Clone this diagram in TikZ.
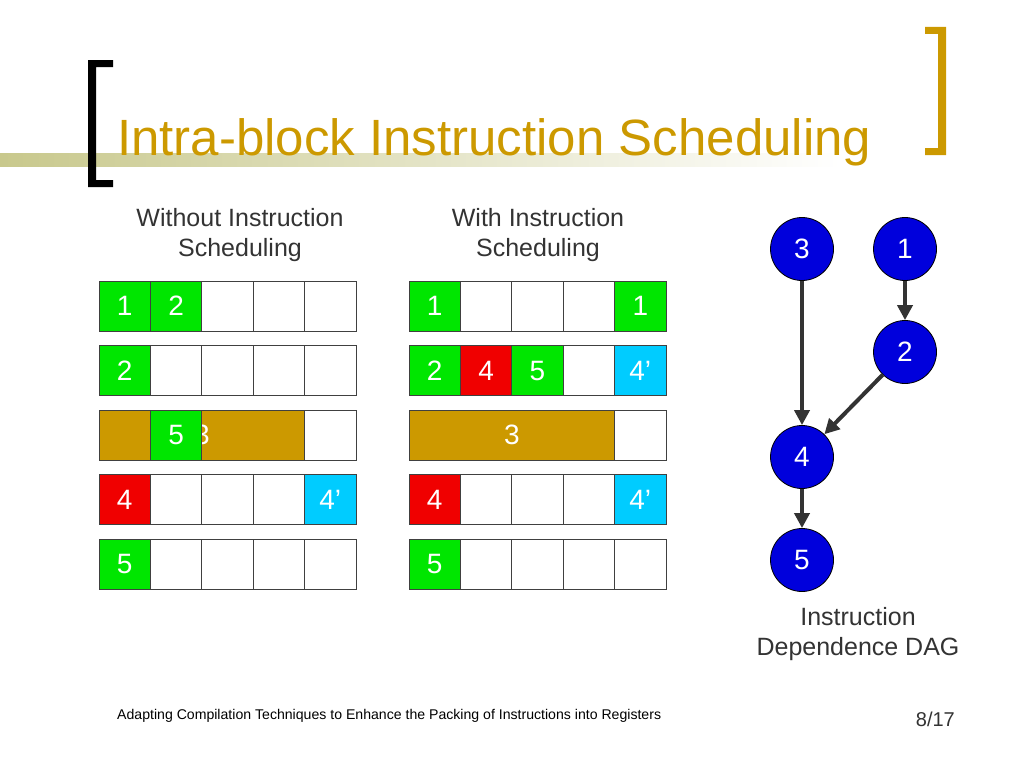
\documentclass[tikz,border=0pt]{standalone}
\usepackage{fontspec}
\setmainfont{Liberation Sans}
\usetikzlibrary{arrows.meta}
\definecolor{gold}{RGB}{204,153,0}
\definecolor{grn}{RGB}{0,230,0}
\definecolor{rd}{RGB}{240,0,0}
\definecolor{cy}{RGB}{0,204,255}
\definecolor{khaki}{RGB}{200,200,140}
\definecolor{dblue}{RGB}{0,0,220}
\definecolor{txt}{RGB}{51,51,51}
\tikzset{
  cell/.style={draw=black!75, line width=0.9pt, fill=white, minimum width=51.4pt, minimum height=50pt, inner sep=0pt, text=white, font=\fontsize{28}{30}\selectfont},
  dagnode/.style={circle, draw=black, line width=0.8pt, fill=dblue, minimum size=63pt, inner sep=0pt, text=white, font=\fontsize{28}{30}\selectfont},
  arr/.style={draw=txt, line width=4pt, -{Triangle[length=15pt,width=15pt]}},
  sub/.style={text=txt, font=\fontsize{25}{30}\selectfont, align=center},
}
\begin{document}
\begin{tikzpicture}[x=1pt,y=-1pt]
\useasboundingbox (0,0) rectangle (1024,768);
% title decoration
\shade[left color=khaki, right color=white, draw=none] (0,153) rectangle (840,166);
\fill[black] (88,60) -- (113,60) -- (113,67) -- (96,67) -- (96,180) -- (113,180) -- (113,187) -- (88,187) -- cycle;
\fill[gold] (946,27) -- (946,155) -- (925,155) -- (925,148) -- (938,148) -- (938,34) -- (925,34) -- (925,27) -- cycle;
\node[anchor=base west, inner sep=0pt, text=gold, font=\fontsize{51}{56}\selectfont] (title) at (117,155) {Intra-block Instruction Scheduling};
% subtitles
\node[sub] (subL) at (240,235) {Without Instruction\\Scheduling};
\node[sub] (subR) at (538,235) {With Instruction\\Scheduling};
% base grids
\foreach \g/\x in {L/99,R/409}
  \foreach \r in {1,...,5}
    \foreach \c in {1,...,5}
      \node[cell] (\g\r\c) at ({\x+(\c-0.5)*51.4},{306+(\r-1)*64.5}) {};
% left grid contents
\node[cell,fill=grn] (L11f) at (L11) {1};
\node[cell,fill=grn] (L12f) at (L12) {2};
\node[cell,fill=grn] (L21f) at (L21) {2};
\node[cell,fill=gold,minimum width=205.6pt] (L3bar) at (201.8,435) {3};
\node[cell,fill=grn] (L32f) at (L32) {5};
\node[cell,fill=rd] (L41f) at (L41) {4};
\node[cell,fill=cy] (L45f) at (L45) {4’};
\node[cell,fill=grn] (L51f) at (L51) {5};
% right grid contents
\node[cell,fill=grn] (R11f) at (R11) {1};
\node[cell,fill=grn] (R15f) at (R15) {1};
\node[cell,fill=grn] (R21f) at (R21) {2};
\node[cell,fill=rd] (R22f) at (R22) {4};
\node[cell,fill=grn] (R23f) at (R23) {5};
\node[cell,fill=cy] (R25f) at (R25) {4’};
\node[cell,fill=gold,minimum width=205.6pt] (R3bar) at (511.8,435) {3};
\node[cell,fill=rd] (R41f) at (R41) {4};
\node[cell,fill=cy] (R45f) at (R45) {4’};
\node[cell,fill=grn] (R51f) at (R51) {5};
% DAG
\node[dagnode] (n3) at (802,249) {3};
\node[dagnode] (n1) at (905,249) {1};
\node[dagnode] (n2) at (905,352) {2};
\node[dagnode] (n4) at (802,457) {4};
\node[dagnode] (n5) at (802,560) {5};
\draw[arr] (n3) -- (n4);
\draw[arr] (n1) -- (n2);
\draw[arr] (n2) -- (n4);
\draw[arr] (n4) -- (n5);
\node[sub] (daglabel) at (858,634) {Instruction\\Dependence DAG};
% footer
\node[anchor=base west, inner sep=0pt, text=black, font=\fontsize{14.1}{16}\selectfont] (footer) at (117,719) {Adapting Compilation Techniques to Enhance the Packing of Instructions into Registers};
\node[anchor=base east, inner sep=0pt, text=txt, font=\fontsize{20}{22}\selectfont] (page) at (955,726) {8/17};
\end{tikzpicture}
\end{document}
